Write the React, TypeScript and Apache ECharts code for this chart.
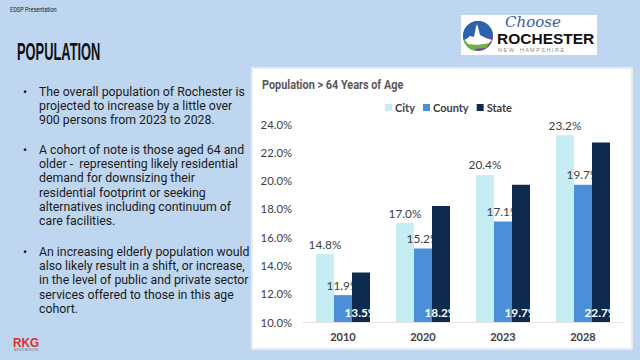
import React, { useEffect, useRef } from "react";
import * as echarts from "echarts";

const years = ["2010", "2020", "2023", "2028"];
const cityValues = [14.8, 17.0, 20.4, 23.2];
const countyValues = [11.9, 15.2, 17.1, 19.7];
const stateValues = [13.5, 18.2, 19.7, 22.7];
const seriesNames = ["City", "County", "State"];

const bullets = [
  "The overall population of Rochester is\nprojected to increase by a little over\n900 persons from 2023 to 2028.",
  "A cohort of note is those aged 64 and\nolder -  representing likely residential\ndemand for downsizing their\nresidential footprint or seeking\nalternatives including continuum of\ncare facilities.",
  "An increasing elderly population would\nalso likely result in a shift, or increase,\nin the level of public and private sector\nservices offered to those in this age\ncohort.",
];
const bulletTops = [92, 150, 252];

const COLORS = { city: "#c6edf3", county: "#4a8fd8", state: "#0c2b4f" };
const LABEL = "#404040";

export default function App() {
  const ref = useRef<HTMLDivElement>(null);
  useEffect(() => {
    const chart = echarts.init(ref.current!, null, { renderer: "svg" });
    const fmt = (p: any) => Number(p.value).toFixed(1) + "%";
    const lh = 14.2;
    const graphics: any[] = [
      { type: "rect", z: 0, shape: { x: 252, y: 68, width: 380, height: 281 }, style: { fill: "#ffffff", stroke: "#e8ecf1", lineWidth: 2 } },
      { type: "text", z: 1, x: 10, y: 10, scaleX: 0.8, style: { text: "EDSP Presentation", fontSize: 7, fontFamily: "Roboto", fill: "#222", verticalAlign: "middle" } },
      { type: "text", z: 1, x: 17, y: 52, scaleX: 0.56, style: { text: "POPULATION", fontSize: 23, fontWeight: "bold", fontFamily: "Liberation Sans", fill: "#111", verticalAlign: "middle" } },
      { type: "text", z: 1, x: 262, y: 85, scaleX: 0.87, style: { text: "Population > 64 Years of Age", fontSize: 12.5, fontWeight: "bold", fontFamily: "Roboto", fill: "#595959", verticalAlign: "middle" } },
      // logo
      { type: "rect", z: 1, shape: { x: 461, y: 15, width: 136, height: 40 }, style: { fill: "#ffffff" } },
      { type: "circle", z: 2, shape: { cx: 478, cy: 36, r: 15 }, style: { fill: "#7a3b93" } },
      { type: "sector", z: 3, shape: { cx: 478, cy: 36, r: 15, r0: 0, startAngle: Math.PI * 0.92, endAngle: Math.PI * 2.05 }, style: { fill: "#2d62ad" } },
      { type: "sector", z: 3, shape: { cx: 478, cy: 36, r: 15, r0: 0, startAngle: Math.PI * 0.55, endAngle: Math.PI * 0.92 }, style: { fill: "#6cb43f" } },
      { type: "polygon", z: 4, shape: { points: [[465, 40], [470, 36], [474, 37], [476, 27], [477, 24], [478, 27], [480, 35], [486, 38], [492, 40], [488, 44], [478, 45], [468, 44]] }, style: { fill: "#ffffff" } },
      { type: "polygon", z: 4, shape: { points: [[466, 46], [478, 45], [490, 43], [486, 48], [474, 49]] }, style: { fill: "#6cb43f" } },
      { type: "text", z: 2, x: 505, y: 22, style: { text: "Choose", fontSize: 15, fontStyle: "italic", fontFamily: "DejaVu Serif", fill: "#3c5da6", verticalAlign: "middle" } },
      { type: "text", z: 2, x: 497, y: 38, style: { text: "ROCHESTER", fontSize: 15.5, fontWeight: "bold", fontFamily: "Liberation Sans", fill: "#111", verticalAlign: "middle" } },
      { type: "text", z: 2, x: 498, y: 49.5, style: { text: "N E W    H A M P S H I R E", fontSize: 5.5, fontFamily: "Liberation Sans", fill: "#8a8a8a", verticalAlign: "middle" } },
      // RKG
      { type: "text", z: 1, x: 13, y: 343, scaleX: 0.9, style: { text: "RKG", fontSize: 13, fontWeight: "bold", fontFamily: "Liberation Sans", fill: "#d9302f", verticalAlign: "middle" } },
      { type: "text", z: 1, x: 14, y: 350, style: { text: "ASSOCIATES INC", fontSize: 3, fontFamily: "Liberation Sans", fill: "#777", verticalAlign: "middle" } },
    ];
    bullets.forEach((b, i) => {
      graphics.push({ type: "text", z: 1, x: 23, y: bulletTops[i] - lh / 2, style: { text: "•", fontSize: 12, fontFamily: "Roboto", fill: "#1a1a1a", verticalAlign: "top", lineHeight: lh } });
      graphics.push({ type: "text", z: 1, x: 39, y: bulletTops[i] - lh / 2, style: { text: b, fontSize: 12.3, fontFamily: "Roboto", fill: "#1a1a1a", verticalAlign: "top", lineHeight: lh } });
    });

    const labelBase = { fontFamily: "Lato", fontSize: 11.8, color: LABEL };
    chart.setOption({
      animation: false,
      backgroundColor: "#bfd6f0",
      graphic: { elements: graphics },
      legend: {
        data: seriesNames,
        left: 380,
        top: 97,
        icon: "rect",
        itemWidth: 7,
        itemHeight: 7,
        itemGap: 8,
        textStyle: { fontFamily: "Lato", fontWeight: "bold", fontSize: 11, color: LABEL, padding: [0, 0, 0, -2] },
      },
      grid: { left: 303, right: 17, top: 124, bottom: 38 },
      xAxis: {
        type: "category",
        data: years,
        axisLine: { lineStyle: { color: "#e4e4e4" } },
        axisTick: { show: false },
        axisLabel: { fontFamily: "Lato", fontWeight: "bold", fontSize: 11, color: LABEL, margin: 9 },
      },
      yAxis: {
        type: "value",
        min: 10,
        max: 24,
        interval: 2,
        splitLine: { show: false },
        axisLine: { show: false },
        axisLabel: { fontFamily: "Lato", fontSize: 11.3, color: LABEL, margin: 11, formatter: (v: number) => v.toFixed(1) + "%" },
      },
      series: [
        { name: "City", type: "bar", z: 2, data: cityValues, barWidth: 18, barGap: "0%", itemStyle: { color: COLORS.city }, label: { show: true, position: "top", distance: 4, formatter: fmt, ...labelBase } },
        { name: "County", type: "bar", z: 3, data: countyValues, barWidth: 18, barGap: "0%", itemStyle: { color: COLORS.county }, label: { show: true, position: "top", distance: 4, formatter: fmt, ...labelBase } },
        { name: "State", type: "bar", z: 4, data: stateValues, barWidth: 18, barGap: "0%", itemStyle: { color: COLORS.state }, label: { show: true, position: "insideBottom", distance: 4, formatter: fmt, ...labelBase, color: "#ffffff", fontWeight: "bold" } },
      ],
    });
    return () => chart.dispose();
  }, []);
  return <div ref={ref} style={{ position: "fixed", left: 0, top: 0, width: 640, height: 360 }} />;
}
